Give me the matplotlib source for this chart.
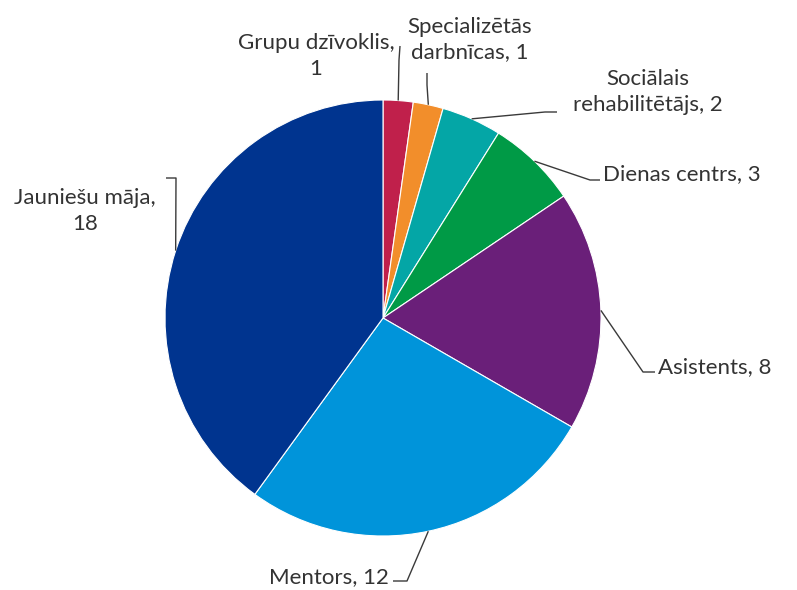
import matplotlib.pyplot as plt
import numpy as np

# sadalījums pa pakalpojumu veidiem
kategorijas = ["Grupu dzīvoklis", "Specializētās darbnīcas", "Sociālais rehabilitētājs",
               "Dienas centrs", "Asistents", "Mentors", "Jauniešu māja"]
skaits = [1, 1, 2, 3, 8, 12, 18]
etiketes = ["Grupu dzīvoklis,\n1", "Specializētās\ndarbnīcas, 1", "Sociālais\nrehabilitētājs, 2",
            "Dienas centrs, 3", "Asistents, 8", "Mentors, 12", "Jauniešu māja,\n18"]
krasas = ["#C0204B", "#F28E2B", "#04A6A6", "#009A46", "#6A1F79", "#0094DA", "#00348F"]

# pikseļu izkārtojums: centrs un rādiuss
W, H = 797, 590
CX, CY, R = 383, 318, 218

# etiķešu novietojums (pikseļos): līnijas lūzuma punkts, gals, teksta punkts, līdzinājums
izkartojums = [
    ((399, 60), (400, 46), (316, 56), "center"),
    ((427, 85), (427, 73), (470, 40), "center"),
    ((545, 112), (557, 112), (648, 92), "center"),
    ((590, 180), (600, 180), (603, 174), "left"),
    ((643, 372), (655, 372), (658, 367), "left"),
    ((407, 581), (393, 581), (389, 577), "right"),
    ((176, 178), (166, 178), (85, 211), "center"),
]


def px(x, y):
    return (x - CX) / R, (CY - y) / R


fig = plt.figure(figsize=(W / 100, H / 100), dpi=100)
ax = fig.add_axes([0, 0, 1, 1])

wedges, _ = ax.pie(skaits, colors=krasas, startangle=90, counterclock=False,
                   radius=1, wedgeprops=dict(edgecolor="white", linewidth=0.8))

ax.set_xlim(-CX / R, (W - CX) / R)
ax.set_ylim(-(H - CY) / R, CY / R)
ax.set_aspect("equal")
ax.axis("off")

for w, txt, (lauz, gals, tp, ha) in zip(wedges, etiketes, izkartojums):
    ang = np.deg2rad((w.theta1 + w.theta2) / 2)
    sx, sy = np.cos(ang), np.sin(ang)
    lx, ly = px(*lauz)
    gx, gy = px(*gals)
    ax.plot([sx, lx, gx], [sy, ly, gy], color="#3a3a3a", lw=1, solid_capstyle="butt")
    tx, ty = px(*tp)
    ax.text(tx, ty, txt, ha=ha, va="center", multialignment="center",
            fontsize=16, family="Lato", color="#333333", linespacing=1.32)

plt.savefig("out.png", dpi=100)
